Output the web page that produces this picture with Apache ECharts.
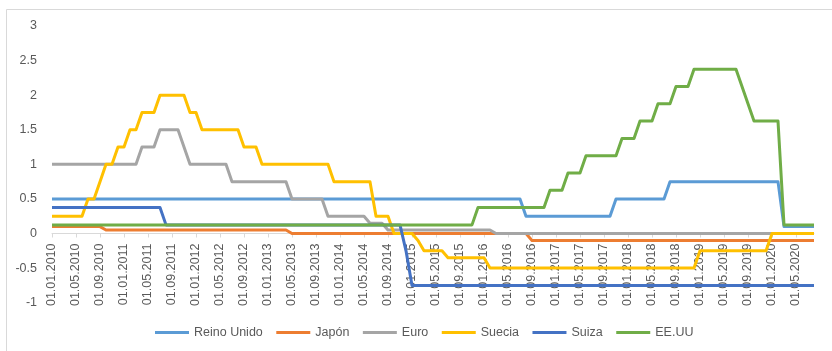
<!DOCTYPE html>
<html><head><meta charset="utf-8">
<script src="https://cdn.jsdelivr.net/npm/echarts@6/dist/echarts.min.js"></script>
<style>html,body{margin:0;padding:0;background:#fff}#c{width:832px;height:351px}</style>
</head><body><div id="c"></div>
<script>
const categories = [
'01.01.2010','01.02.2010','01.03.2010','01.04.2010','01.05.2010','01.06.2010','01.07.2010','01.08.2010','01.09.2010','01.10.2010','01.11.2010','01.12.2010',
'01.01.2011','01.02.2011','01.03.2011','01.04.2011','01.05.2011','01.06.2011','01.07.2011','01.08.2011','01.09.2011','01.10.2011','01.11.2011','01.12.2011',
'01.01.2012','01.02.2012','01.03.2012','01.04.2012','01.05.2012','01.06.2012','01.07.2012','01.08.2012','01.09.2012','01.10.2012','01.11.2012','01.12.2012',
'01.01.2013','01.02.2013','01.03.2013','01.04.2013','01.05.2013','01.06.2013','01.07.2013','01.08.2013','01.09.2013','01.10.2013','01.11.2013','01.12.2013',
'01.01.2014','01.02.2014','01.03.2014','01.04.2014','01.05.2014','01.06.2014','01.07.2014','01.08.2014','01.09.2014','01.10.2014','01.11.2014','01.12.2014',
'01.01.2015','01.02.2015','01.03.2015','01.04.2015','01.05.2015','01.06.2015','01.07.2015','01.08.2015','01.09.2015','01.10.2015','01.11.2015','01.12.2015',
'01.01.2016','01.02.2016','01.03.2016','01.04.2016','01.05.2016','01.06.2016','01.07.2016','01.08.2016','01.09.2016','01.10.2016','01.11.2016','01.12.2016',
'01.01.2017','01.02.2017','01.03.2017','01.04.2017','01.05.2017','01.06.2017','01.07.2017','01.08.2017','01.09.2017','01.10.2017','01.11.2017','01.12.2017',
'01.01.2018','01.02.2018','01.03.2018','01.04.2018','01.05.2018','01.06.2018','01.07.2018','01.08.2018','01.09.2018','01.10.2018','01.11.2018','01.12.2018',
'01.01.2019','01.02.2019','01.03.2019','01.04.2019','01.05.2019','01.06.2019','01.07.2019','01.08.2019','01.09.2019','01.10.2019','01.11.2019','01.12.2019',
'01.01.2020','01.02.2020','01.03.2020','01.04.2020','01.05.2020','01.06.2020','01.07.2020','01.08.2020'
];

const reinoUnido = [
0.5,0.5,0.5,0.5,0.5,0.5,0.5,0.5,0.5,0.5,0.5,0.5,
0.5,0.5,0.5,0.5,0.5,0.5,0.5,0.5,0.5,0.5,0.5,0.5,
0.5,0.5,0.5,0.5,0.5,0.5,0.5,0.5,0.5,0.5,0.5,0.5,
0.5,0.5,0.5,0.5,0.5,0.5,0.5,0.5,0.5,0.5,0.5,0.5,
0.5,0.5,0.5,0.5,0.5,0.5,0.5,0.5,0.5,0.5,0.5,0.5,
0.5,0.5,0.5,0.5,0.5,0.5,0.5,0.5,0.5,0.5,0.5,0.5,
0.5,0.5,0.5,0.5,0.5,0.5,0.5,0.25,0.25,0.25,0.25,0.25,
0.25,0.25,0.25,0.25,0.25,0.25,0.25,0.25,0.25,0.25,0.5,0.5,
0.5,0.5,0.5,0.5,0.5,0.5,0.5,0.75,0.75,0.75,0.75,0.75,
0.75,0.75,0.75,0.75,0.75,0.75,0.75,0.75,0.75,0.75,0.75,0.75,
0.75,0.75,0.1,0.1,0.1,0.1,0.1,0.1
];

const japon = [
0.1,0.1,0.1,0.1,0.1,0.1,0.1,0.1,0.1,0.05,0.05,0.05,
0.05,0.05,0.05,0.05,0.05,0.05,0.05,0.05,0.05,0.05,0.05,0.05,
0.05,0.05,0.05,0.05,0.05,0.05,0.05,0.05,0.05,0.05,0.05,0.05,
0.05,0.05,0.05,0.05,0,0,0,0,0,0,0,0,
0,0,0,0,0,0,0,0,0,0,0,0,
0,0,0,0,0,0,0,0,0,0,0,0,
0,0,0,0,0,0,0,0,-0.1,-0.1,-0.1,-0.1,
-0.1,-0.1,-0.1,-0.1,-0.1,-0.1,-0.1,-0.1,-0.1,-0.1,-0.1,-0.1,
-0.1,-0.1,-0.1,-0.1,-0.1,-0.1,-0.1,-0.1,-0.1,-0.1,-0.1,-0.1,
-0.1,-0.1,-0.1,-0.1,-0.1,-0.1,-0.1,-0.1,-0.1,-0.1,-0.1,-0.1,
-0.1,-0.1,-0.1,-0.1,-0.1,-0.1,-0.1,-0.1
];

const euro = [
1,1,1,1,1,1,1,1,1,1,1,1,
1,1,1,1.25,1.25,1.25,1.5,1.5,1.5,1.5,1.25,1,
1,1,1,1,1,1,0.75,0.75,0.75,0.75,0.75,0.75,
0.75,0.75,0.75,0.75,0.5,0.5,0.5,0.5,0.5,0.5,0.25,0.25,
0.25,0.25,0.25,0.25,0.25,0.15,0.15,0.15,0.05,0.05,0.05,0.05,
0.05,0.05,0.05,0.05,0.05,0.05,0.05,0.05,0.05,0.05,0.05,0.05,
0.05,0.05,0,0,0,0,0,0,0,0,0,0,
0,0,0,0,0,0,0,0,0,0,0,0,
0,0,0,0,0,0,0,0,0,0,0,0,
0,0,0,0,0,0,0,0,0,0,0,0,
0,0,0,0,0,0,0,0
];

const suecia = [
0.25,0.25,0.25,0.25,0.25,0.25,0.5,0.5,0.75,1,1,1.25,
1.25,1.5,1.5,1.75,1.75,1.75,2,2,2,2,2,1.75,
1.75,1.5,1.5,1.5,1.5,1.5,1.5,1.5,1.25,1.25,1.25,1,
1,1,1,1,1,1,1,1,1,1,1,0.75,
0.75,0.75,0.75,0.75,0.75,0.75,0.25,0.25,0.25,0,0,0,
0,-0.1,-0.25,-0.25,-0.25,-0.25,-0.35,-0.35,-0.35,-0.35,-0.35,-0.35,
-0.35,-0.5,-0.5,-0.5,-0.5,-0.5,-0.5,-0.5,-0.5,-0.5,-0.5,-0.5,
-0.5,-0.5,-0.5,-0.5,-0.5,-0.5,-0.5,-0.5,-0.5,-0.5,-0.5,-0.5,
-0.5,-0.5,-0.5,-0.5,-0.5,-0.5,-0.5,-0.5,-0.5,-0.5,-0.5,-0.5,
-0.25,-0.25,-0.25,-0.25,-0.25,-0.25,-0.25,-0.25,-0.25,-0.25,-0.25,-0.25,
0,0,0,0,0,0,0,0
];

const suiza = [
0.375,0.375,0.375,0.375,0.375,0.375,0.375,0.375,0.375,0.375,0.375,0.375,
0.375,0.375,0.375,0.375,0.375,0.375,0.375,0.125,0.125,0.125,0.125,0.125,
0.125,0.125,0.125,0.125,0.125,0.125,0.125,0.125,0.125,0.125,0.125,0.125,
0.125,0.125,0.125,0.125,0.125,0.125,0.125,0.125,0.125,0.125,0.125,0.125,
0.125,0.125,0.125,0.125,0.125,0.125,0.125,0.125,0.125,0.125,0.125,-0.25,
-0.75,-0.75,-0.75,-0.75,-0.75,-0.75,-0.75,-0.75,-0.75,-0.75,-0.75,-0.75,
-0.75,-0.75,-0.75,-0.75,-0.75,-0.75,-0.75,-0.75,-0.75,-0.75,-0.75,-0.75,
-0.75,-0.75,-0.75,-0.75,-0.75,-0.75,-0.75,-0.75,-0.75,-0.75,-0.75,-0.75,
-0.75,-0.75,-0.75,-0.75,-0.75,-0.75,-0.75,-0.75,-0.75,-0.75,-0.75,-0.75,
-0.75,-0.75,-0.75,-0.75,-0.75,-0.75,-0.75,-0.75,-0.75,-0.75,-0.75,-0.75,
-0.75,-0.75,-0.75,-0.75,-0.75,-0.75,-0.75,-0.75
];

const eeuu = [
0.125,0.125,0.125,0.125,0.125,0.125,0.125,0.125,0.125,0.125,0.125,0.125,
0.125,0.125,0.125,0.125,0.125,0.125,0.125,0.125,0.125,0.125,0.125,0.125,
0.125,0.125,0.125,0.125,0.125,0.125,0.125,0.125,0.125,0.125,0.125,0.125,
0.125,0.125,0.125,0.125,0.125,0.125,0.125,0.125,0.125,0.125,0.125,0.125,
0.125,0.125,0.125,0.125,0.125,0.125,0.125,0.125,0.125,0.125,0.125,0.125,
0.125,0.125,0.125,0.125,0.125,0.125,0.125,0.125,0.125,0.125,0.125,0.375,
0.375,0.375,0.375,0.375,0.375,0.375,0.375,0.375,0.375,0.375,0.375,0.625,
0.625,0.625,0.875,0.875,0.875,1.125,1.125,1.125,1.125,1.125,1.125,1.375,
1.375,1.375,1.625,1.625,1.625,1.875,1.875,1.875,2.125,2.125,2.125,2.375,
2.375,2.375,2.375,2.375,2.375,2.375,2.375,2.125,1.875,1.625,1.625,1.625,
1.625,1.625,0.125,0.125,0.125,0.125,0.125,0.125
];

const seriesNames = ['Reino Unido','Japón','Euro','Suecia','Suiza','EE.UU'];
const seriesData = [reinoUnido, japon, euro, suecia, suiza, eeuu];
const colors = ['#5B9BD5','#ED7D31','#A5A5A5','#FFC000','#4472C4','#70AD47'];

const FONT = '"Liberation Sans", Arial, sans-serif';
const chart = echarts.init(document.getElementById('c'), null, {renderer:'canvas'});
chart.setOption({
  animation: false,
  backgroundColor: '#fff',
  color: colors,
  graphic: [{
    type: 'rect', silent: true, z: -1,
    shape: {x: 6.5, y: 9.5, width: 900, height: 400},
    style: {fill: 'none', stroke: '#D9D9D9', lineWidth: 1}
  }],
  grid: {left: 52, right: 18, top: 26, bottom: 48.3, containLabel: false, outerBoundsMode: 'none'},
  legend: {
    data: seriesNames,
    left: 150, top: 321,
    icon: 'rect', itemWidth: 34, itemHeight: 3, itemGap: 13.5,
    textStyle: {color: '#595959', fontSize: 12.5, fontFamily: FONT}
  },
  xAxis: {
    type: 'category',
    data: categories,
    boundaryGap: false,
    offset: -69.2,
    axisLine: {onZero: false, lineStyle: {color: '#D9D9D9', width: 1}},
    axisTick: {show: true, interval: 3, length: 4, lineStyle: {color: '#D9D9D9'}},
    axisLabel: {interval: 3, rotate: 90, margin: 10, color: '#595959', fontSize: 12.5, fontFamily: FONT, padding: [8,0,0,0]},
    splitLine: {show: false}
  },
  yAxis: {
    type: 'value',
    min: -1, max: 3, interval: 0.5,
    axisLine: {show: false},
    axisTick: {show: false},
    splitLine: {show: false},
    axisLabel: {margin: 15, color: '#595959', fontSize: 12.5, fontFamily: FONT}
  },
  series: seriesNames.map((n, i) => ({
    name: n, type: 'line', data: seriesData[i],
    showSymbol: false, symbol: 'none',
    lineStyle: {width: 3, color: colors[i], join: 'round'},
    itemStyle: {color: colors[i]},
    z: 2 + i
  }))
});
</script>
</body></html>
